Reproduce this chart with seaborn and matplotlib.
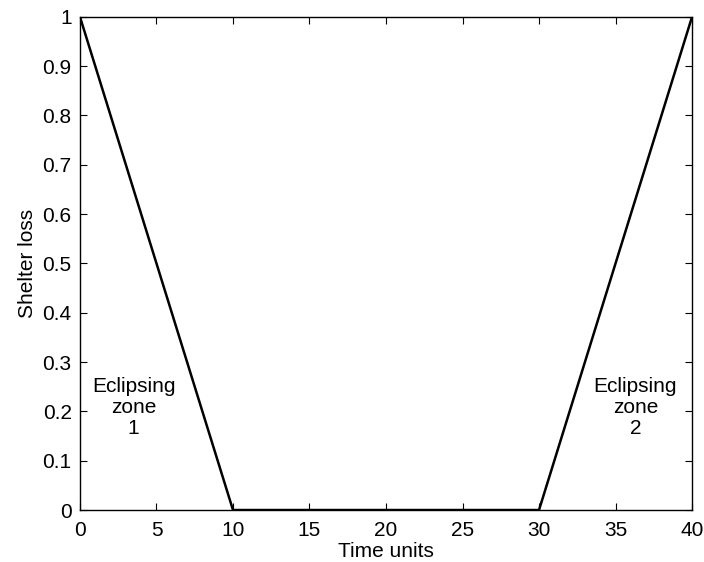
import pandas as pd
import matplotlib
matplotlib.use("Agg")
import matplotlib.pyplot as plt
import seaborn as sns

# Data
time_units = [0, 10, 30, 40]
shelter_loss = [1, 0, 0, 1]
x_ticks = [0, 5, 10, 15, 20, 25, 30, 35, 40]
y_ticks = [0, 0.1, 0.2, 0.3, 0.4, 0.5, 0.6, 0.7, 0.8, 0.9, 1]
y_tick_labels = ["0", "0.1", "0.2", "0.3", "0.4", "0.5", "0.6", "0.7", "0.8", "0.9", "1"]

df = pd.DataFrame({"time": time_units, "loss": shelter_loss})

sns.set_style("ticks")
plt.rcParams["font.family"] = ["Liberation Sans", "DejaVu Sans"]
plt.rcParams["text.color"] = "black"
plt.rcParams["axes.labelcolor"] = "black"
plt.rcParams["xtick.color"] = "black"
plt.rcParams["ytick.color"] = "black"

FS = 15

fig = plt.figure(figsize=(7.04, 5.62), dpi=100)
ax = fig.add_axes([0.1136, 0.0925, 0.8694, 0.8775])

sns.lineplot(data=df, x="time", y="loss", color="black", linewidth=1.8, ax=ax)

ax.set_xlim(0, 40)
ax.set_ylim(0, 1)
ax.set_xticks(x_ticks)
ax.set_xticklabels([str(t) for t in x_ticks])
ax.set_yticks(y_ticks)
ax.set_yticklabels(y_tick_labels)
ax.tick_params(direction="in", length=5, width=0.8, top=True, right=True, labelsize=FS)
ax.tick_params(axis="x", pad=8)
ax.tick_params(axis="y", pad=6)
for s in ax.spines.values():
    s.set_visible(True)
    s.set_linewidth(1.0)
    s.set_color("black")

ax.set_xlabel("Time units", fontsize=FS, labelpad=1)
ax.set_ylabel("Shelter loss", fontsize=FS, labelpad=4)

ax.text(3.5, 0.208, "Eclipsing\nzone\n1", ha="center", va="center", fontsize=FS, linespacing=1.15)
ax.text(36.3, 0.208, "Eclipsing\nzone\n2", ha="center", va="center", fontsize=FS, linespacing=1.15)

fig.savefig("out.png", dpi=100)
